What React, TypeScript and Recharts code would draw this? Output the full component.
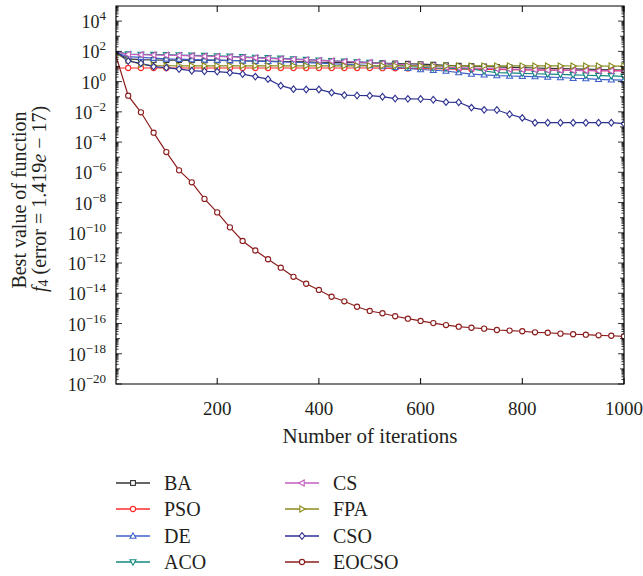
import React from 'react';
import { LineChart, Line, XAxis, YAxis, ReferenceArea, Legend } from 'recharts';

const FONT = '"Liberation Serif", "Times New Roman", serif';

// iterations at which the curves are sampled (markers)
const iterations = [1, 25, 50, 75, 100, 125, 150, 175, 200, 225, 250, 275, 300, 325, 350, 375, 400, 425, 450, 475, 500, 525, 550, 575, 600, 625, 650, 675, 700, 725, 750, 775, 800, 825, 850, 875, 900, 925, 950, 975, 1000];

const BA = [79.4, 31.6, 28.2, 26.9, 26.3, 26.3, 25.7, 25.1, 25.1, 24.5, 24.0, 22.9, 22.4, 21.4, 20.9, 20.0, 19.1, 18.6, 18.2, 17.8, 17.4, 16.6, 15.8, 15.1, 14.1, 13.2, 12.0, 11.2, 10.5, 10.0, 9.33, 8.71, 8.32, 7.94, 7.59, 7.24, 6.92, 6.61, 6.31, 6.03, 5.75];
const PSO = [7.94, 7.94, 7.94, 7.94, 7.94, 7.94, 7.94, 7.94, 7.94, 7.94, 7.94, 7.94, 7.94, 7.94, 7.94, 7.94, 7.94, 7.94, 7.94, 7.94, 7.94, 7.76, 7.59, 7.41, 7.24, 7.08, 6.92, 6.76, 6.61, 6.46, 6.31, 6.17, 6.03, 5.89, 5.75, 5.62, 5.50, 5.44, 5.37, 5.31, 5.25];
const DE = [79.4, 44.7, 39.8, 35.5, 31.6, 30.2, 28.8, 27.5, 26.3, 25.1, 24.0, 22.9, 21.9, 20.4, 19.1, 17.8, 16.6, 15.1, 13.8, 12.6, 11.5, 10.0, 8.91, 7.59, 6.31, 5.62, 5.01, 3.98, 3.16, 2.82, 2.51, 2.34, 2.24, 2.14, 2.0, 1.86, 1.66, 1.58, 1.41, 1.32, 1.26];
const ACO = [100, 66.1, 63.1, 61.7, 60.3, 57.5, 55.0, 52.5, 50.1, 46.8, 43.7, 39.8, 37.2, 34.7, 31.6, 28.8, 26.3, 24.0, 21.9, 20.0, 18.6, 15.8, 12.6, 10.0, 8.91, 7.94, 7.59, 7.24, 6.92, 5.01, 3.98, 3.72, 3.55, 3.31, 3.16, 3.02, 2.82, 2.63, 2.51, 2.40, 2.24];
const CS = [89.1, 63.1, 60.3, 57.5, 56.2, 53.7, 50.1, 47.9, 45.7, 42.7, 39.8, 37.2, 34.7, 31.6, 29.5, 27.5, 25.1, 23.4, 21.4, 20.0, 18.2, 15.8, 14.1, 12.6, 11.2, 10.0, 8.91, 8.32, 7.94, 7.59, 7.08, 6.61, 6.31, 6.03, 5.75, 5.62, 5.50, 5.37, 5.25, 5.13, 5.01];
const FPA = [70.8, 25.1, 13.5, 11.5, 11.2, 11.0, 11.0, 11.0, 11.0, 11.0, 11.0, 11.0, 11.0, 11.0, 11.0, 11.0, 11.0, 11.0, 11.0, 11.0, 11.0, 11.0, 11.0, 11.0, 11.0, 10.96, 10.96, 10.96, 10.96, 10.96, 10.96, 10.96, 10.96, 10.9, 10.9, 10.9, 10.8, 10.8, 10.8, 10.7, 10.7];
const CSO = [100, 22.9, 16.2, 9.77, 8.32, 6.76, 5.25, 4.79, 4.57, 3.89, 3.16, 2.14, 1.45, 0.537, 0.316, 0.302, 0.302, 0.186, 0.126, 0.120, 0.117, 0.100, 0.0759, 0.0724, 0.0708, 0.0631, 0.0437, 0.0427, 0.0191, 0.0135, 0.0132, 0.00692, 0.00398, 0.00191, 0.00191, 0.00191, 0.00191, 0.00191, 0.00191, 0.00191, 0.00166];
const EOCSO = [50.1, 0.117, 9.33e-3, 4.17e-4, 2.19e-5, 1.35e-6, 2.19e-7, 1.74e-8, 2.24e-9, 2.29e-10, 2.88e-11, 6.76e-12, 1.78e-12, 4.90e-13, 1.23e-13, 4.27e-14, 1.66e-14, 5.89e-15, 2.95e-15, 1.29e-15, 6.76e-16, 4.79e-16, 3.02e-16, 2.09e-16, 1.48e-16, 1.07e-16, 7.94e-17, 6.17e-17, 5.25e-17, 4.57e-17, 3.72e-17, 3.39e-17, 3.09e-17, 2.63e-17, 2.45e-17, 2.14e-17, 1.95e-17, 1.82e-17, 1.66e-17, 1.55e-17, 1.419e-17];

const xTickValues = [200, 400, 600, 800, 1000];
const yLabelExponents = [-20, -18, -16, -14, -12, -10, -8, -6, -4, -2, 0, 2, 4];
const yMinExp = -20;
const yMaxExp = 5;

const series = [
  { key: 'BA', values: BA, color: '#333333', shape: 'square' },
  { key: 'PSO', values: PSO, color: '#ff2b2b', shape: 'circle' },
  { key: 'DE', values: DE, color: '#3e62c8', shape: 'up' },
  { key: 'ACO', values: ACO, color: '#15877f', shape: 'down' },
  { key: 'CS', values: CS, color: '#c45cc0', shape: 'left' },
  { key: 'FPA', values: FPA, color: '#8a8a1c', shape: 'right' },
  { key: 'CSO', values: CSO, color: '#2d3190', shape: 'diamond' },
  { key: 'EOCSO', values: EOCSO, color: '#8c1d1d', shape: 'circle' },
];

const data = iterations.map((it, i) => {
  const row: Record<string, number> = { it };
  series.forEach((s) => {
    row[s.key] = s.values[i];
  });
  return row;
});

const yTicks: number[] = [];
for (let e = yMinExp; e < yMaxExp; e++) {
  for (let m = 1; m <= 9; m++) yTicks.push(m * Math.pow(10, e));
}

const PL = 116;
const PR = 624;
const PT = 6;
const PB = 384;
const TEXT = '#231f20';

function Marker({ shape, cx, cy, color }: any) {
  const c = { fill: '#ffffff', stroke: color, strokeWidth: 1.1 };
  switch (shape) {
    case 'square':
      return <rect x={cx - 2.4} y={cy - 2.4} width={4.8} height={4.8} {...c} />;
    case 'up':
      return <polygon points={`${cx},${cy - 3.2} ${cx - 3},${cy + 2.2} ${cx + 3},${cy + 2.2}`} {...c} />;
    case 'down':
      return <polygon points={`${cx},${cy + 3.2} ${cx - 3},${cy - 2.2} ${cx + 3},${cy - 2.2}`} {...c} />;
    case 'left':
      return <polygon points={`${cx - 3.2},${cy} ${cx + 2.2},${cy - 3} ${cx + 2.2},${cy + 3}`} {...c} />;
    case 'right':
      return <polygon points={`${cx + 3.2},${cy} ${cx - 2.2},${cy - 3} ${cx - 2.2},${cy + 3}`} {...c} />;
    case 'diamond':
      return <polygon points={`${cx},${cy - 3.3} ${cx + 2.7},${cy} ${cx},${cy + 3.3} ${cx - 2.7},${cy}`} {...c} />;
    default:
      return <circle cx={cx} cy={cy} r={2.6} {...c} />;
  }
}

const YTick = (props: any) => {
  const { y, payload } = props;
  const v = payload.value;
  const lg = Math.log10(v);
  const e = Math.round(lg);
  const isDecade = Math.abs(lg - e) < 1e-6;
  const isLabel = isDecade && yLabelExponents.includes(e);
  const len = isLabel ? 6 : isDecade ? 4 : 2.5;
  return (
    <g>
      <line x1={PL} x2={PL + len} y1={y} y2={y} stroke="#000" strokeWidth={0.8} />
      <line x1={PR} x2={PR - len} y1={y} y2={y} stroke="#000" strokeWidth={0.8} />
      {isLabel && (
        <text x={106} y={y + 7} textAnchor="end" fontFamily={FONT} fontSize={18} fill={TEXT}>
          <tspan>10</tspan>
          <tspan fontSize={13} dy={-8}>{e < 0 ? `\u2212${-e}` : `${e}`}</tspan>
        </text>
      )}
    </g>
  );
};

const XTick = (props: any) => {
  const { x, payload } = props;
  return (
    <g>
      <line x1={x} x2={x} y1={PB} y2={PB - 6} stroke="#000" strokeWidth={1} />
      <line x1={x} x2={x} y1={PT} y2={PT + 6} stroke="#000" strokeWidth={1} />
      <text x={x} y={415} textAnchor="middle" fontFamily={FONT} fontSize={19} fill={TEXT}>
        {payload.value}
      </text>
    </g>
  );
};

const LegendContent = () => {
  const rows = [18, 44, 71, 97];
  const cols = [
    { lx: 16, mx: 33, tx: 64 },
    { lx: 185, mx: 202, tx: 233 },
  ];
  return (
    <svg width={330} height={115}>
      {series.map((s, i) => {
        const col = cols[Math.floor(i / 4)];
        const y = rows[i % 4];
        return (
          <g key={s.key}>
            <line x1={col.lx} x2={col.lx + 34} y1={y} y2={y} stroke={s.color} strokeWidth={1.4} />
            <Marker shape={s.shape} cx={col.mx} cy={y} color={s.color} />
            <text x={col.tx} y={y + 7} fontFamily={FONT} fontSize={20} fill={TEXT}>
              {s.key}
            </text>
          </g>
        );
      })}
    </svg>
  );
};

export default function App() {
  return (
    <div style={{ position: 'absolute', left: 0, top: 0, background: '#fff' }}>
      <LineChart
        width={643}
        height={576}
        data={data}
        margin={{ top: 6, right: 19, bottom: 162, left: 0 }}
      >
        <XAxis
          dataKey="it"
          type="number"
          domain={[1, 1000]}
          ticks={xTickValues}
          interval={0}
          tick={<XTick />}
          tickLine={false}
          axisLine={false}
          height={30}
          allowDataOverflow
          label={{
            content: () => (
              <text x={370} y={443} textAnchor="middle" fontFamily={FONT} fontSize={21} fill={TEXT}>
                Number of iterations
              </text>
            ),
          }}
        />
        <YAxis
          type="number"
          scale="log"
          domain={[Math.pow(10, yMinExp), Math.pow(10, yMaxExp)]}
          ticks={yTicks}
          interval={0}
          tick={<YTick />}
          tickLine={false}
          axisLine={false}
          width={116}
          allowDataOverflow
          label={{
            content: () => (
              <g>
                <text
                  transform="translate(19,200) rotate(-90)"
                  textAnchor="middle"
                  dominantBaseline="central"
                  fontFamily={FONT}
                  fontSize={20}
                  fill={TEXT}
                >
                  Best value of function
                </text>
                <text
                  transform="translate(39,199) rotate(-90)"
                  textAnchor="middle"
                  dominantBaseline="central"
                  fontFamily={FONT}
                  fontSize={20}
                  fill={TEXT}
                >
                  <tspan fontStyle="italic">f</tspan>
                  <tspan fontSize={14} dy={4}>4</tspan>
                  <tspan dy={-4}> (error = 1.419</tspan>
                  <tspan fontStyle="italic">e</tspan>
                  <tspan> {'\u2212'} 17)</tspan>
                </text>
              </g>
            ),
          }}
        />
        <ReferenceArea
          x1={1}
          x2={1000}
          y1={Math.pow(10, yMinExp)}
          y2={Math.pow(10, yMaxExp)}
          fill="none"
          stroke="#000"
          strokeWidth={1.2}
          ifOverflow="visible"
        />
        {series.map((s) => (
          <Line
            key={s.key}
            dataKey={s.key}
            type="linear"
            stroke={s.color}
            strokeWidth={1.2}
            isAnimationActive={false}
            activeDot={false}
            dot={(p: any) =>
              p.index === 0 || p.cx == null ? (
                <g key={`${s.key}-${p.index}`} />
              ) : (
                <Marker key={`${s.key}-${p.index}`} shape={s.shape} cx={p.cx} cy={p.cy} color={s.color} />
              )
            }
          />
        ))}
        <Legend
          layout="horizontal"
          verticalAlign="middle"
          align="center"
          content={() => <LegendContent />}
          wrapperStyle={{ position: 'absolute', left: 100, top: 465, width: 330, height: 115 }}
        />
      </LineChart>
    </div>
  );
}
